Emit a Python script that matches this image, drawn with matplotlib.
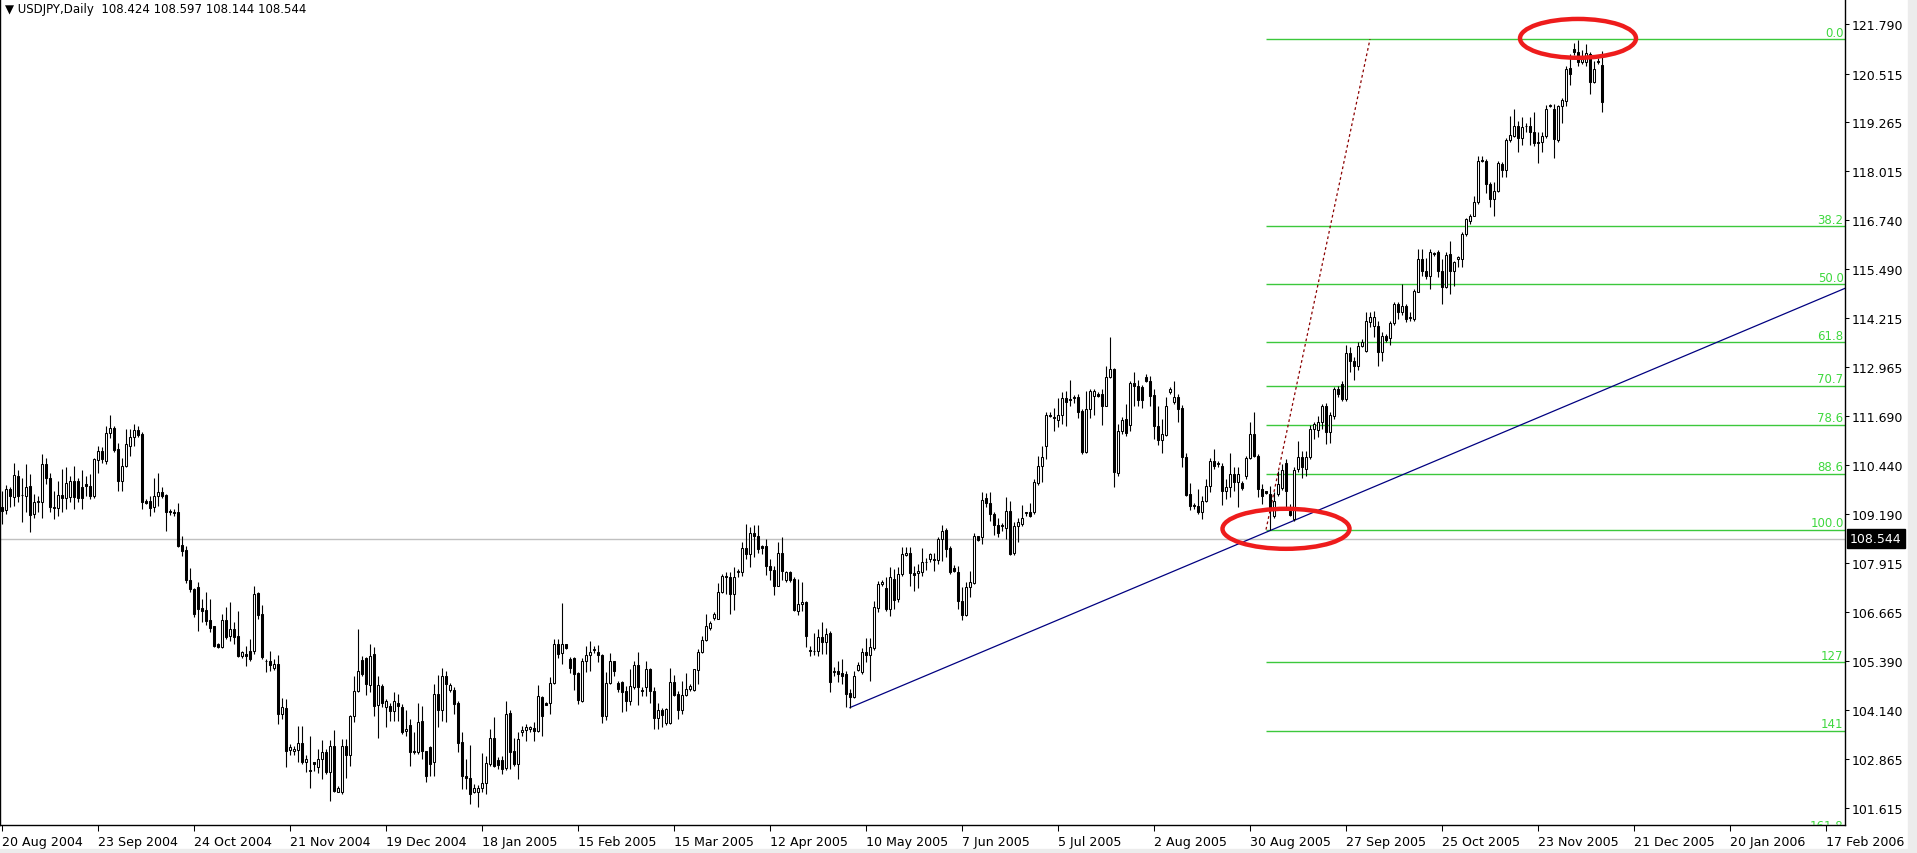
import matplotlib
matplotlib.use("Agg")
import matplotlib.pyplot as plt
from matplotlib.patches import Ellipse, Rectangle

# ── Daily USDJPY candles, 20 Aug 2004 onwards ──
opens = [
    109.35, 109.28, 109.82, 109.61, 110.17, 109.67, 109.65, 109.89, 109.18, 109.48,
    109.48, 110.48, 110.12, 109.35, 109.34, 109.68, 109.59, 109.61, 110.04, 110.04,
    109.87, 109.95, 109.89, 109.65, 110.58, 110.80, 110.54, 111.27, 111.39, 110.85,
    110.02, 110.41, 110.94, 111.15, 111.34, 111.24, 109.51, 109.51, 109.35, 109.65,
    109.74, 109.67, 109.26, 109.22, 109.22, 108.38, 108.25, 107.48, 107.25, 107.29,
    106.77, 106.71, 106.45, 106.29, 105.84, 105.75, 106.45, 106.03, 106.22, 106.03,
    105.53, 105.58, 105.65, 105.65, 107.15, 106.61, 105.41, 105.41, 105.23, 105.32,
    104.03, 104.18, 103.11, 103.07, 103.12, 103.28, 102.79, 102.59, 102.79, 102.66,
    102.88, 103.06, 102.55, 103.22, 102.03, 102.02, 103.20, 102.98, 103.97, 104.63,
    105.43, 105.47, 104.79, 105.58, 104.27, 104.76, 104.21, 104.25, 104.10, 104.33,
    104.21, 103.59, 103.75, 103.07, 103.05, 103.86, 103.07, 103.18, 102.79, 104.55,
    104.15, 105.00, 104.66, 104.65, 104.32, 103.32, 102.45, 102.38, 102.02, 102.02,
    102.12, 102.25, 102.76, 103.41, 102.85, 102.85, 102.64, 104.06, 103.09, 102.76,
    103.56, 103.63, 103.65, 103.67, 103.59, 104.46, 104.33, 104.31, 104.83, 105.83,
    105.60, 105.83, 105.45, 105.47, 105.09, 104.38, 105.41, 105.55, 105.68, 105.64,
    105.55, 103.99, 104.83, 105.39, 104.83, 104.87, 104.63, 104.36, 104.72, 105.30,
    104.66, 104.72, 105.19, 104.63, 103.92, 104.15, 103.80, 103.80, 104.85, 104.55,
    104.15, 104.52, 104.68, 104.66, 105.17, 105.62, 105.95, 106.26, 106.50, 106.48,
    107.17, 107.58, 107.55, 107.12, 107.68, 107.68, 108.30, 108.15, 108.69, 108.61,
    108.35, 108.35, 107.83, 107.75, 107.34, 108.19, 107.49, 107.68, 107.51, 106.69,
    106.86, 106.92, 105.68, 105.66, 105.66, 106.01, 105.88, 106.12, 105.11, 105.13,
    105.09, 105.06, 104.57, 104.46, 105.17, 105.11, 105.64, 105.55, 105.72, 106.75,
    107.38, 107.27, 106.73, 107.52, 106.99, 107.64, 108.13, 108.18, 107.66, 107.66,
    107.69, 107.94, 108.02, 108.02, 108.00, 108.54, 108.77, 108.31, 107.79, 107.70,
    106.95, 106.59, 107.29, 107.40, 108.61, 108.58, 109.58, 109.46, 109.18, 108.90,
    108.90, 108.82, 109.25, 108.18, 108.88, 108.92, 109.20, 109.24, 109.24, 109.99,
    110.42, 110.92, 111.73, 111.67, 111.61, 111.74, 112.16, 112.14, 112.20, 112.18,
    111.84, 110.78, 111.87, 112.23, 112.27, 112.27, 111.97, 112.70, 112.91, 110.24,
    111.32, 111.62, 111.48, 112.54, 112.47, 112.44, 112.71, 112.61, 112.24, 111.45,
    111.09, 111.21, 112.31, 112.05, 112.18, 111.90, 110.66, 109.70, 109.41, 109.39,
    109.22, 109.52, 109.91, 110.54, 110.49, 110.41, 109.78, 109.87, 110.21, 110.01,
    109.99, 110.17, 110.61, 111.24, 110.68, 109.82, 109.76, 109.70, 109.14, 109.70,
    109.84, 110.49, 109.27, 109.05, 110.34, 110.64, 110.34, 110.64, 111.37, 111.35,
    111.54, 111.97, 111.30, 111.71, 112.41, 112.53, 112.14, 113.32, 113.13, 113.00,
    113.51, 113.38, 114.13, 114.01, 114.01, 113.34, 113.77, 113.70, 114.10, 114.58,
    114.37, 114.54, 114.26, 114.20, 114.90, 115.73, 115.44, 115.31, 115.89, 115.91,
    115.44, 115.01, 115.87, 115.44, 115.74, 115.74, 116.39, 116.73, 116.86, 117.20,
    118.30, 118.27, 117.67, 117.29, 117.50, 118.19, 118.02, 118.81, 118.90, 119.16,
    118.85, 119.17, 119.17, 119.02, 118.75, 118.75, 118.90, 119.67, 119.60, 118.81,
    119.67, 119.82, 120.65, 121.15, 121.06, 120.80, 120.80, 121.02, 120.31, 120.85,
    120.74,
]
highs = [
    109.78, 109.93, 109.87, 110.49, 110.32, 110.12, 110.47, 110.21, 109.70, 109.65,
    110.72, 110.61, 110.24, 109.78, 110.04, 110.34, 110.38, 110.15, 110.42, 110.12,
    110.31, 110.17, 110.21, 110.61, 110.92, 110.90, 111.44, 111.73, 111.44, 111.01,
    110.61, 111.37, 111.37, 111.50, 111.45, 111.28, 109.57, 109.65, 110.10, 110.24,
    109.87, 109.70, 109.31, 109.31, 109.46, 108.62, 108.37, 107.78, 107.27, 107.42,
    106.99, 107.18, 106.99, 106.31, 105.85, 106.61, 106.78, 106.92, 106.39, 106.69,
    105.66, 105.79, 105.96, 107.34, 107.18, 106.84, 105.45, 105.66, 105.45, 105.55,
    104.44, 104.42, 103.26, 103.22, 103.73, 103.73, 102.98, 103.46, 102.81, 103.13,
    103.37, 103.13, 103.37, 103.61, 102.19, 103.39, 103.39, 104.00, 105.02, 106.22,
    105.53, 105.49, 105.84, 105.75, 105.02, 104.81, 104.42, 104.32, 104.59, 104.55,
    104.29, 104.15, 103.91, 103.56, 104.32, 104.23, 103.09, 103.22, 104.81, 105.04,
    105.21, 105.15, 104.82, 104.72, 104.38, 103.56, 102.88, 103.24, 102.23, 102.21,
    103.03, 102.96, 103.65, 103.95, 102.92, 102.96, 104.38, 104.15, 103.41, 103.56,
    103.73, 103.78, 103.73, 103.82, 104.78, 104.51, 104.35, 104.98, 105.96, 105.96,
    106.89, 105.84, 105.49, 105.49, 105.11, 105.47, 105.79, 105.92, 105.79, 105.81,
    105.58, 105.11, 105.60, 105.41, 104.89, 104.89, 104.76, 105.19, 105.41, 105.64,
    104.72, 105.39, 105.21, 104.72, 104.33, 104.18, 104.18, 105.23, 105.04, 104.63,
    104.89, 105.09, 104.81, 105.19, 105.71, 106.03, 106.61, 106.44, 106.67, 107.41,
    107.64, 107.70, 107.68, 107.81, 107.77, 108.47, 108.92, 108.84, 108.90, 108.90,
    108.38, 108.54, 108.02, 107.85, 108.45, 108.58, 107.72, 107.72, 107.55, 107.51,
    107.44, 106.95, 105.79, 106.12, 106.22, 106.41, 106.26, 106.18, 105.24, 105.41,
    105.45, 105.15, 104.69, 105.15, 105.38, 105.72, 105.98, 105.98, 106.95, 107.46,
    107.49, 107.55, 107.81, 107.76, 107.81, 108.32, 108.32, 108.32, 107.83, 107.89,
    108.30, 108.04, 108.19, 108.19, 108.58, 108.90, 108.81, 108.37, 107.87, 107.85,
    107.29, 107.42, 107.72, 108.69, 108.62, 109.74, 109.71, 109.74, 109.22, 109.09,
    108.94, 109.63, 109.52, 108.97, 109.07, 109.41, 109.24, 109.46, 110.08, 110.68,
    110.94, 111.80, 111.80, 111.90, 112.16, 112.33, 112.35, 112.64, 112.24, 112.27,
    111.88, 112.35, 112.40, 112.40, 112.31, 112.40, 112.98, 113.73, 112.93, 111.50,
    111.67, 112.01, 112.61, 112.84, 112.64, 112.50, 112.78, 112.72, 112.41, 111.95,
    111.62, 112.18, 112.44, 112.61, 112.27, 111.99, 110.75, 109.98, 109.46, 109.82,
    109.65, 110.08, 110.61, 110.85, 110.55, 110.49, 110.08, 110.75, 110.38, 110.38,
    110.04, 110.68, 111.54, 111.80, 110.72, 109.95, 109.78, 109.91, 109.74, 110.30,
    110.47, 110.60, 109.44, 110.38, 111.07, 110.81, 110.81, 111.47, 111.56, 111.71,
    112.01, 112.04, 111.80, 112.46, 112.48, 112.61, 113.53, 113.47, 113.21, 113.60,
    113.68, 114.39, 114.39, 114.41, 114.16, 113.87, 113.81, 114.16, 114.63, 114.63,
    115.10, 114.59, 114.37, 114.97, 116.00, 116.00, 115.76, 116.00, 115.93, 115.98,
    115.74, 115.91, 116.21, 115.70, 115.83, 116.43, 116.79, 116.90, 117.37, 118.40,
    118.39, 118.32, 117.73, 117.73, 118.27, 118.23, 118.85, 119.42, 119.60, 119.30,
    119.39, 119.23, 119.39, 119.52, 119.00, 119.02, 119.71, 119.73, 119.73, 119.71,
    119.88, 120.72, 121.02, 121.30, 121.39, 121.13, 121.28, 121.06, 120.85, 120.91,
    121.10,
]
lows = [
    108.92, 109.18, 109.35, 109.39, 109.48, 108.98, 109.22, 108.73, 109.09, 109.22,
    109.09, 109.95, 109.22, 109.05, 109.14, 109.24, 109.31, 109.48, 109.31, 109.48,
    109.31, 109.65, 109.57, 109.58, 110.24, 110.49, 110.47, 111.13, 110.78, 109.78,
    109.76, 110.38, 110.68, 110.94, 111.15, 109.31, 109.44, 109.12, 109.22, 109.38,
    109.58, 108.75, 109.15, 109.14, 108.32, 108.11, 107.41, 107.18, 106.52, 106.18,
    106.39, 106.32, 106.14, 105.75, 105.73, 105.72, 105.96, 105.92, 105.84, 105.49,
    105.47, 105.26, 105.41, 105.58, 106.48, 105.45, 105.12, 105.15, 105.17, 103.78,
    103.90, 102.66, 102.98, 102.98, 102.79, 102.75, 102.53, 102.12, 102.58, 102.52,
    102.36, 102.49, 101.80, 102.03, 102.02, 101.97, 102.38, 102.70, 103.84, 104.59,
    105.00, 104.52, 104.59, 103.99, 103.41, 104.21, 103.69, 103.86, 103.86, 103.86,
    103.52, 103.46, 102.70, 103.00, 103.00, 102.88, 102.29, 102.45, 102.43, 103.69,
    103.86, 103.82, 104.61, 104.03, 103.05, 102.10, 102.10, 101.72, 102.00, 101.63,
    102.04, 101.97, 102.70, 102.66, 102.62, 102.49, 102.60, 102.62, 102.70, 102.36,
    103.46, 103.33, 103.56, 103.35, 103.56, 103.46, 104.27, 104.03, 104.81, 105.47,
    105.32, 105.71, 105.09, 104.64, 104.29, 104.35, 105.12, 105.15, 105.60, 105.36,
    103.79, 103.88, 104.81, 105.02, 104.61, 104.08, 104.12, 104.27, 104.68, 104.27,
    104.49, 104.51, 104.33, 103.65, 103.65, 103.69, 103.75, 103.78, 104.51, 103.91,
    104.03, 104.51, 104.63, 104.63, 104.81, 105.60, 105.90, 106.20, 106.46, 106.48,
    107.15, 107.12, 106.61, 106.72, 107.55, 107.58, 108.02, 107.81, 108.07, 108.19,
    108.15, 107.61, 107.49, 107.10, 107.32, 107.47, 107.44, 107.42, 106.69, 106.58,
    106.69, 105.75, 105.52, 105.55, 105.53, 105.58, 105.58, 104.59, 105.02, 104.85,
    104.81, 104.22, 104.20, 104.44, 105.15, 105.06, 105.36, 104.89, 105.69, 106.67,
    107.34, 106.69, 106.55, 106.73, 106.92, 107.58, 108.11, 107.34, 107.21, 107.27,
    107.59, 107.75, 107.95, 107.72, 107.89, 107.98, 108.08, 107.64, 107.68, 106.73,
    106.46, 106.55, 107.04, 107.38, 108.49, 108.41, 109.35, 109.01, 108.64, 108.58,
    108.75, 108.55, 108.13, 108.13, 108.47, 108.88, 109.14, 109.11, 109.18, 109.93,
    110.01, 110.60, 111.67, 111.32, 111.41, 111.50, 111.44, 111.95, 112.04, 111.64,
    110.72, 110.75, 111.64, 111.73, 112.18, 111.47, 111.95, 112.67, 109.87, 110.17,
    111.24, 111.20, 111.32, 111.97, 111.95, 111.92, 112.57, 111.97, 111.11, 110.96,
    110.75, 111.18, 112.27, 112.01, 111.54, 110.38, 109.64, 109.29, 109.31, 109.18,
    109.05, 109.48, 109.74, 110.34, 110.38, 109.40, 109.57, 109.61, 109.78, 109.35,
    109.81, 110.08, 110.60, 110.64, 109.61, 109.44, 109.70, 108.78, 109.09, 109.65,
    109.81, 109.29, 109.12, 109.01, 110.25, 110.12, 110.17, 110.60, 111.11, 111.15,
    111.37, 110.98, 111.02, 111.63, 112.18, 112.10, 112.10, 112.83, 112.64, 112.89,
    113.47, 113.34, 113.98, 113.73, 113.00, 113.13, 113.61, 113.53, 114.04, 114.20,
    114.29, 114.11, 114.16, 114.16, 114.89, 115.31, 115.23, 114.97, 115.81, 115.27,
    114.59, 114.99, 114.84, 115.06, 115.53, 115.53, 116.34, 116.64, 116.84, 117.16,
    118.23, 117.44, 117.07, 116.84, 117.46, 117.84, 117.84, 118.75, 118.87, 118.49,
    118.68, 119.00, 118.68, 118.66, 118.21, 118.50, 118.85, 119.65, 118.33, 118.76,
    119.24, 119.67, 120.22, 120.98, 120.70, 120.76, 120.72, 119.99, 120.27, 120.76,
    119.52,
]
closes = [
    109.27, 109.82, 109.65, 110.18, 109.65, 109.66, 109.87, 109.16, 109.48, 109.51,
    110.48, 110.12, 109.35, 109.33, 109.68, 109.58, 109.99, 110.04, 109.61, 109.59,
    109.59, 109.89, 109.65, 110.60, 110.80, 110.60, 111.27, 111.39, 110.84, 110.02,
    110.41, 110.98, 111.15, 111.34, 111.22, 109.50, 109.47, 109.34, 109.65, 109.74,
    109.65, 109.22, 109.22, 109.21, 108.37, 108.24, 107.47, 107.25, 106.61, 106.74,
    106.68, 106.44, 106.26, 105.79, 105.75, 106.45, 106.01, 106.22, 106.01, 105.53,
    105.62, 105.53, 105.45, 107.12, 106.59, 105.49, 105.39, 105.30, 105.32, 104.03,
    104.21, 103.07, 103.18, 103.13, 103.28, 102.79, 102.88, 102.58, 102.75, 102.88,
    103.06, 102.55, 103.22, 102.06, 102.12, 103.20, 102.98, 103.97, 104.63, 105.13,
    105.06, 104.81, 105.53, 104.25, 104.79, 104.33, 104.36, 104.10, 104.36, 104.23,
    103.56, 103.65, 103.05, 103.05, 103.82, 103.07, 102.45, 102.75, 104.55, 104.15,
    105.00, 104.81, 104.78, 104.29, 103.30, 102.43, 102.38, 101.97, 102.12, 102.12,
    102.26, 102.77, 103.41, 102.70, 102.72, 102.62, 104.03, 103.05, 102.75, 103.39,
    103.62, 103.69, 103.69, 103.59, 104.49, 103.99, 104.27, 104.83, 105.83, 105.58,
    105.83, 105.74, 105.21, 105.06, 104.40, 105.41, 105.55, 105.64, 105.71, 105.55,
    103.99, 104.83, 105.39, 105.15, 104.69, 104.61, 104.36, 104.75, 105.30, 104.72,
    104.63, 105.19, 104.63, 103.94, 104.15, 104.01, 104.16, 104.85, 104.52, 104.15,
    104.52, 104.68, 104.75, 105.19, 105.62, 105.95, 106.31, 106.37, 106.61, 107.17,
    107.58, 107.55, 107.12, 107.55, 107.72, 108.30, 108.15, 108.69, 108.61, 108.28,
    108.30, 107.85, 107.75, 107.34, 108.19, 107.72, 107.68, 107.47, 106.72, 106.87,
    106.92, 106.03, 105.65, 105.65, 106.01, 105.88, 106.09, 104.85, 105.15, 105.06,
    105.02, 104.55, 104.46, 105.02, 105.29, 105.62, 105.55, 105.75, 106.78, 107.38,
    107.44, 106.73, 107.55, 106.97, 107.64, 108.15, 108.19, 107.66, 107.62, 107.72,
    107.94, 107.95, 108.15, 108.00, 108.55, 108.75, 108.28, 107.68, 107.72, 106.95,
    106.59, 107.29, 107.42, 108.61, 108.52, 109.55, 109.46, 109.18, 108.91, 108.68,
    108.86, 109.25, 108.15, 108.86, 108.97, 109.08, 109.22, 109.14, 110.01, 110.42,
    110.66, 111.73, 111.69, 111.64, 111.73, 112.16, 112.07, 112.11, 112.17, 111.80,
    110.77, 111.87, 112.35, 112.35, 112.23, 111.97, 112.70, 112.91, 110.25, 111.32,
    111.61, 111.26, 112.54, 112.47, 112.12, 112.11, 112.61, 112.23, 111.45, 111.09,
    111.24, 111.97, 112.40, 112.18, 111.87, 110.66, 109.68, 109.39, 109.38, 109.22,
    109.52, 109.91, 110.54, 110.42, 110.48, 109.78, 109.87, 110.21, 110.01, 110.21,
    109.85, 110.61, 111.24, 110.68, 109.82, 109.65, 109.72, 109.31, 109.52, 109.95,
    110.32, 109.78, 109.15, 110.32, 110.64, 110.38, 110.64, 111.37, 111.50, 111.54,
    111.97, 111.30, 111.73, 112.41, 112.27, 112.14, 113.32, 113.13, 113.00, 113.51,
    113.60, 114.14, 114.24, 114.24, 113.34, 113.77, 113.67, 114.10, 114.58, 114.39,
    114.53, 114.20, 114.23, 114.93, 115.73, 115.44, 115.31, 115.91, 115.86, 115.44,
    115.01, 115.85, 115.44, 115.66, 115.79, 116.39, 116.76, 116.86, 117.22, 118.27,
    118.27, 117.67, 117.29, 117.50, 118.21, 118.02, 118.81, 118.93, 119.17, 118.85,
    119.13, 119.16, 119.02, 118.73, 118.73, 118.92, 119.60, 119.71, 118.83, 119.67,
    119.84, 120.63, 120.50, 121.06, 120.80, 120.89, 121.04, 120.31, 120.63, 120.82,
    119.78,
]

date_labels = [
    "20 Aug 2004", "23 Sep 2004", "24 Oct 2004", "21 Nov 2004", "19 Dec 2004",
    "18 Jan 2005", "15 Feb 2005", "15 Mar 2005", "12 Apr 2005", "10 May 2005",
    "7 Jun 2005", "5 Jul 2005", "2 Aug 2005", "30 Aug 2005", "27 Sep 2005",
    "25 Oct 2005", "23 Nov 2005", "21 Dec 2005", "20 Jan 2006", "17 Feb 2006",
]
bars_per_label = 24

price_ticks = [121.790, 120.515, 119.265, 118.015, 116.740, 115.490, 114.215,
               112.965, 111.690, 110.440, 109.190, 107.915, 106.665, 105.390,
               104.140, 102.865, 101.615]

# Fibonacci retracement (anchored on the Sep low and the Dec high)
fib_high = 121.40
fib_low = 108.78
fib_start = 316
fib_top_bar = 342
fib_ratios = [0.0, 38.2, 50.0, 61.8, 70.7, 78.6, 88.6, 100.0, 127.0, 141.0, 161.8]
fib_names = ["0.0", "38.2", "50.0", "61.8", "70.7", "78.6", "88.6", "100.0",
             "127", "141", "161.8"]

# trendline anchors (bar, price)
trend_bars = [212, 354.5]
trend_prices = [104.20, 110.38]

bid = 108.544
header = "\u25bc USDJPY,Daily  108.424 108.597 108.144 108.544"

# ── figure ───────────────────────────────────────────
W, H = 1917, 854
fig = plt.figure(figsize=(W / 100, H / 100), dpi=100, facecolor="white")
ax = fig.add_axes([0, 28 / H, 1845 / W, 826 / H])
ax.set_facecolor("white")

n = len(closes)
xs = list(range(n))
x_right = -0.5 + 1845 / 4
ax.set_xlim(-0.5, x_right)
ax.set_ylim(101.178, 122.433)

# bid line
ax.axhline(bid, color="#c0c0c0", lw=1, zorder=1)

# fibo levels
green = "#3cc83c"
for r, name in zip(fib_ratios, fib_names):
    lvl = fib_high - r / 100 * (fib_high - fib_low)
    ax.hlines(lvl, fib_start, x_right, color=green, lw=1, zorder=1)
    t = ax.annotate(name, xy=(x_right, lvl), xytext=(-1, 0.3),
                    textcoords="offset points", ha="right", va="bottom",
                    color="#3ed83e", fontsize=8.5, annotation_clip=False)
    t.set_clip_box(ax.bbox)
    t.set_clip_on(True)
ax.plot([fib_start, fib_top_bar], [fib_low, fib_high], color="#8b0000",
        lw=0.9, ls=(0, (2.2, 2.2)), zorder=2)

# trendline (ray)
slope = (trend_prices[1] - trend_prices[0]) / (trend_bars[1] - trend_bars[0])
ax.plot([trend_bars[0], x_right],
        [trend_prices[0], trend_prices[0] + slope * (x_right - trend_bars[0])],
        color="#000080", lw=0.9, zorder=2)

# candles
ax.vlines(xs, lows, highs, color="black", lw=0.8, zorder=3)
bottoms = [min(o, c) for o, c in zip(opens, closes)]
heights = [max(abs(c - o), 0.004) for o, c in zip(opens, closes)]
fills = ["white" if c >= o else "black" for o, c in zip(opens, closes)]
ax.bar(xs, heights, bottom=bottoms, width=0.5, color=fills,
       edgecolor="black", linewidth=0.75, zorder=4)

# highlight ellipses
ax.add_patch(Ellipse((321, 108.80), 31.75, 1.03, fill=False,
                     edgecolor="#ee1c1c", lw=3.2, zorder=5))
ax.add_patch(Ellipse((394, 121.42), 29, 1.0, fill=False,
                     edgecolor="#ee1c1c", lw=3.2, zorder=5))

# axes styling
ax.spines["top"].set_visible(False)
for s in ("left", "right", "bottom"):
    ax.spines[s].set_color("black")
    ax.spines[s].set_linewidth(1)

ax.yaxis.tick_right()
ax.set_yticks(price_ticks)
ax.set_yticklabels([f"{p:.3f}" for p in price_ticks])
ax.tick_params(axis="y", direction="out", length=3, width=0.75, pad=2,
               labelsize=9, colors="black")

ax.set_xticks(list(range(0, bars_per_label * len(date_labels), bars_per_label)))
ax.set_xticklabels(date_labels, ha="left")
ax.tick_params(axis="x", direction="out", length=4, width=0.75, pad=3,
               labelsize=9.1, colors="black")

# current price box on the axis
ax.annotate(f"{bid:.3f}", xy=(1, bid), xycoords=("axes fraction", "data"),
            xytext=(3.5, 0), textcoords="offset points", ha="left", va="center",
            color="white", fontsize=9, annotation_clip=False,
            bbox=dict(boxstyle="square,pad=0.25", fc="black", ec="black"))

fig.text(5 / W, 1 - 3 / H, header, ha="left", va="top", fontsize=8.5,
         color="black")

# window edges
fig.patches.append(Rectangle((1908 / W, 0), 9 / W, 1, transform=fig.transFigure,
                             color="#ececec", zorder=0))
fig.patches.append(Rectangle((0, 0), 1, 4 / H, transform=fig.transFigure,
                             color="#ececec", zorder=0))

fig.savefig("out.png", dpi=100)
